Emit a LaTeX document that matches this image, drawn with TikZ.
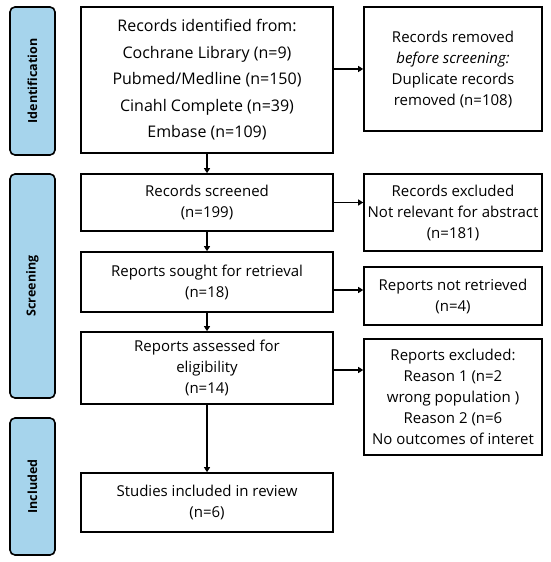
\documentclass[tikz,border=0pt]{standalone}
\usepackage{fontspec}
\setmainfont{Open Sans}
\usetikzlibrary{arrows.meta}
\definecolor{stageblue}{RGB}{166,212,236}
\tikzset{
 flowbox/.style={draw,line width=1.6pt,align=center,inner sep=0pt,font=\fontsize{15}{21}\selectfont},
 leftbox/.style={flowbox,minimum width=252pt},
 rightbox/.style={flowbox,minimum width=178pt},
 stage/.style={draw,line width=1.6pt,fill=stageblue,rounded corners=5pt,minimum width=45pt,
   inner sep=0pt,font=\fontsize{12.5}{15}\selectfont\bfseries},
 flow/.style={line width=1.2pt,-{Triangle[length=5pt,width=6pt]}}
}
\begin{document}
\begin{tikzpicture}[x=1pt,y=1pt]
\useasboundingbox (0,0) rectangle (550,562);
\node[stage,minimum height=148pt] (idn) at (32.5,481) {\rotatebox{90}{Identification}};
\node[stage,minimum height=224pt] (scr) at (32.5,276) {\rotatebox{90}{Screening}};
\node[stage,minimum height=137pt] (inc) at (32.5,75.5) {\rotatebox{90}{Included}};
\node[leftbox,minimum height=146pt,font=\fontsize{16}{26.5}\selectfont] (ident) at (207,482)
 {Records identified from:\\Cochrane Library (n=9)\\Pubmed/Medline (n=150)\\Cinahl Complete (n=39)\\Embase (n=109)};
\node[leftbox,minimum height=57pt] (screened) at (207,359.5) {Records screened\\(n=199)};
\node[leftbox,minimum height=60pt] (sought) at (207,280) {Reports sought for retrieval\\(n=18)};
\node[leftbox,minimum height=72pt] (assessed) at (207,194) {Reports assessed for\\eligibility\\(n=14)};
\node[leftbox,minimum height=59pt] (included) at (207,59.5) {Studies included in review\\(n=6)};
\node[rightbox,minimum height=124pt] (removed) at (453,493) {Records removed\\\textit{before screening:}\\Duplicate records\\removed (n=108)};
\node[rightbox,minimum height=77pt] (excluded) at (453,349.5) {Records excluded\\Not relevant for abstract\\(n=181)};
\node[rightbox,minimum height=58pt] (notret) at (453,266) {Reports not retrieved\\(n=4)};
\node[rightbox,minimum height=116pt] (repexcl) at (453,165) {Reports excluded:\\Reason 1 (n=2\\wrong population )\\Reason 2 (n=6\\No outcomes of interet};
\draw[flow] (ident) -- (screened);
\draw[flow] (screened) -- (sought);
\draw[flow] (sought) -- (assessed);
\draw[flow] (assessed) -- (included);
\draw[flow] (ident.east |- removed.west) -- (removed.west);
\draw[flow] (screened.east) -- (screened.east -| excluded.west);
\draw[flow] ([yshift=-8pt]sought.east) -- ([yshift=-8pt]sought.east -| notret.west);
\draw[flow] ([yshift=-2pt]assessed.east) -- ([yshift=-2pt]assessed.east -| repexcl.west);
\end{tikzpicture}
\end{document}
